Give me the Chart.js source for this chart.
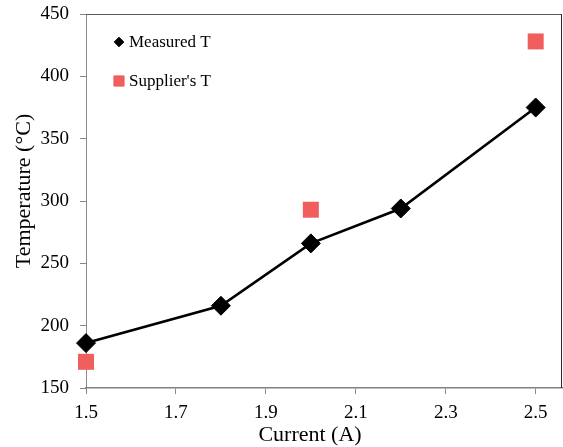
<!DOCTYPE html>
<html>
<head>
<meta charset="utf-8">
<script src="https://cdn.jsdelivr.net/npm/chart.js@4/dist/chart.umd.min.js"></script>
<style>
  html, body { margin: 0; padding: 0; background: #fff; }
  #wrap { width: 563px; height: 447px; }
</style>
</head>
<body>
<div id="wrap"><canvas id="c" width="563" height="447"></canvas></div>
<script>
// Heater temperature versus current
const currentMeasured = [1.5, 1.8, 2.0, 2.2, 2.5];
const tempMeasured = [186, 216, 266, 294, 375];
const currentSupplier = [1.5, 2.0, 2.5];
const tempSupplier = [171, 293, 428];
const xTickValues = [1.5, 1.7, 1.9, 2.1, 2.3, 2.5];
const yTickValues = [150, 200, 250, 300, 350, 400, 450];
const seriesNames = ['Measured T', "Supplier's T"];
const xTitle = 'Current (A)';
const yTitle = 'Temperature (\u00B0C)';

const SERIF = '"Liberation Serif", "Times New Roman", serif';

const toPoints = (xs, ys) => xs.map((x, i) => ({ x: x, y: ys[i] }));

// frame lines on top/right, axis titles and the in-plot legend
const decorations = {
  id: 'decorations',
  beforeDatasetsDraw(chart) {
    const ctx = chart.ctx;
    const a = chart.chartArea;
    ctx.save();
    ctx.lineWidth = 1;
    ctx.strokeStyle = '#5a5a5a';
    ctx.beginPath();
    ctx.moveTo(a.left, a.top + 0.5);
    ctx.lineTo(a.right, a.top + 0.5);
    ctx.stroke();
    ctx.strokeStyle = '#262626';
    ctx.beginPath();
    ctx.moveTo(a.right - 0.5, a.top);
    ctx.lineTo(a.right - 0.5, a.bottom);
    ctx.stroke();
    ctx.restore();
  },
  afterDraw(chart) {
    const ctx = chart.ctx;
    ctx.save();
    // axis titles
    ctx.fillStyle = '#000';
    ctx.font = '22px ' + SERIF;
    ctx.textAlign = 'center';
    ctx.textBaseline = 'middle';
    ctx.fillText(xTitle, 310, 435);
    ctx.save();
    ctx.translate(24, 191);
    ctx.rotate(-Math.PI / 2);
    ctx.fillText(yTitle, 0, 0);
    ctx.restore();

    // legend
    const entries = [
      { ds: chart.data.datasets[0], y: 42, r: 4.8 },
      { ds: chart.data.datasets[1], y: 81, r: 7.2 }
    ];
    ctx.font = '17px ' + SERIF;
    ctx.textAlign = 'left';
    entries.forEach(e => {
      ctx.fillStyle = e.ds.pointBackgroundColor;
      ctx.strokeStyle = e.ds.pointBorderColor;
      ctx.lineWidth = 1;
      Chart.helpers.drawPoint(ctx, { pointStyle: e.ds.pointStyle, radius: e.r, borderWidth: 1 }, 119, e.y);
      ctx.fillStyle = '#000';
      ctx.fillText(e.ds.label, 129, e.y + 1);
    });
    ctx.restore();
  }
};

new Chart(document.getElementById('c'), {
  type: 'scatter',
  data: {
    datasets: [
      {
        label: seriesNames[0],
        data: toPoints(currentMeasured, tempMeasured),
        showLine: true,
        clip: false,
        borderColor: '#000',
        borderWidth: 2.6,
        pointStyle: 'rectRot',
        pointRadius: 9.5,
        pointHoverRadius: 9.5,
        pointBackgroundColor: '#000',
        pointBorderColor: '#000',
        pointBorderWidth: 1,
        order: 1
      },
      {
        label: seriesNames[1],
        data: toPoints(currentSupplier, tempSupplier),
        showLine: false,
        clip: false,
        pointStyle: 'rect',
        pointRadius: 11.3,
        pointHoverRadius: 11.3,
        pointBackgroundColor: '#f05e5e',
        pointBorderColor: '#f05e5e',
        pointBorderWidth: 0,
        order: 2
      }
    ]
  },
  options: {
    responsive: false,
    animation: false,
    events: [],
    layout: { autoPadding: false, padding: { top: 14, right: 1, left: 0, bottom: 0 } },
    plugins: { legend: { display: false }, tooltip: { enabled: false } },
    scales: {
      x: {
        type: 'linear',
        min: 1.5,
        max: 2.5585,
        afterBuildTicks(scale) { scale.ticks = xTickValues.map(v => ({ value: v })); },
        afterFit(scale) {
          scale.height = 59;
          scale.paddingLeft = 0;
          scale.paddingRight = 0;
        },
        ticks: {
          color: '#000',
          font: { family: SERIF, size: 19 },
          padding: 8,
          maxRotation: 0,
          callback: v => v.toFixed(1)
        },
        grid: { drawOnChartArea: false, tickLength: 6, color: '#888', lineWidth: 1 },
        border: { color: '#808080', width: 1.5 }
      },
      y: {
        type: 'linear',
        min: 150,
        max: 450,
        afterBuildTicks(scale) { scale.ticks = yTickValues.map(v => ({ value: v })); },
        afterFit(scale) {
          scale.width = 86;
          scale.paddingTop = 0;
          scale.paddingBottom = 0;
        },
        ticks: {
          color: '#000',
          font: { family: SERIF, size: 19 },
          padding: 11
        },
        grid: { drawOnChartArea: false, tickLength: 6, color: '#888', lineWidth: 1 },
        border: { color: '#8a8a8a', width: 1 }
      }
    }
  },
  plugins: [decorations]
});
</script>
</body>
</html>
